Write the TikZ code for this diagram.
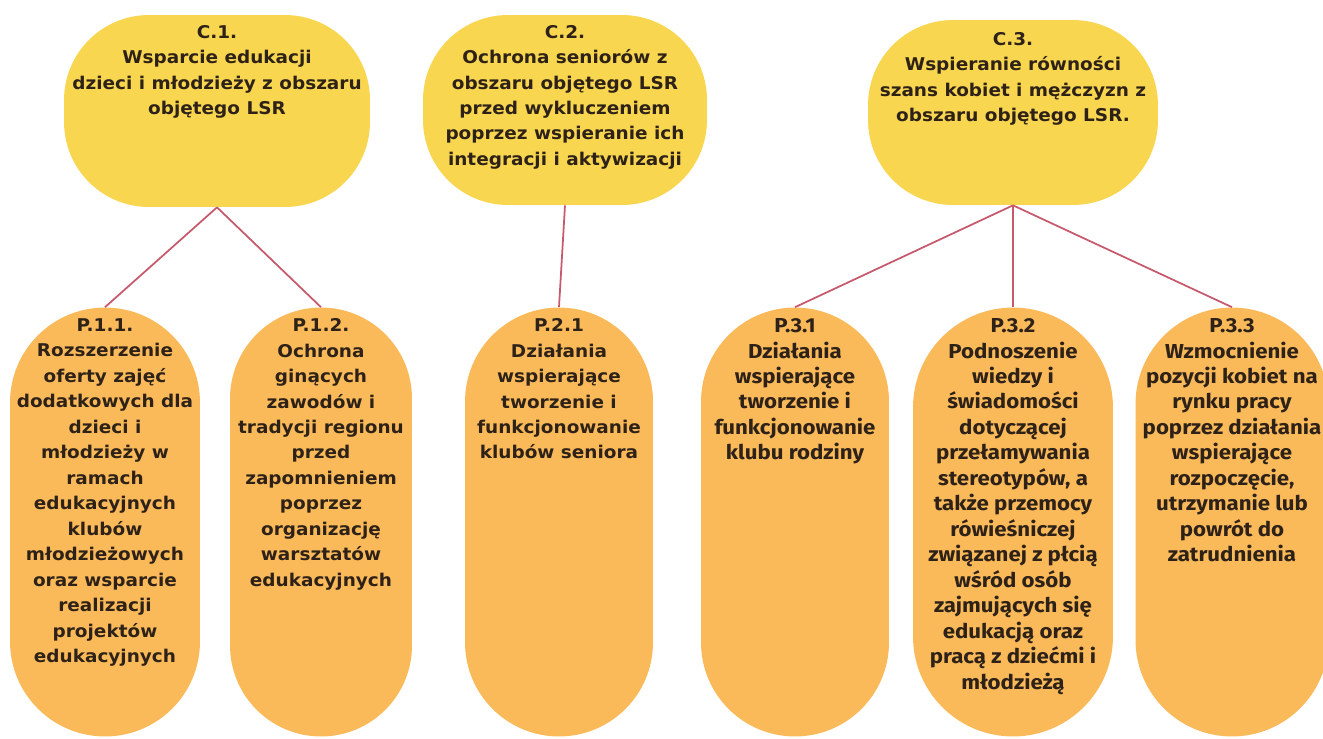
\documentclass[tikz,border=0pt]{standalone}
\usepackage{fontspec}
\newfontfamily\widefont[FakeStretch=1.05]{DejaVu Sans}
\newfontfamily\narrowfont[FakeStretch=1.1]{Fira Sans}
\usetikzlibrary{positioning}
\definecolor{goalyellow}{HTML}{F8D650}
\definecolor{taskorange}{HTML}{FABA5A}
\definecolor{linkred}{HTML}{C65A6C}
\definecolor{inkbrown}{HTML}{2E2218}

\begin{document}
\begin{tikzpicture}[x=0.02cm, y=-0.02cm,
  goal/.style={fill=goalyellow, rounded corners=1.7cm, inner sep=0pt},
  task/.style={fill=taskorange, minimum width=#1cm, rounded corners=#1*0.5cm, inner sep=0pt, minimum height=8.58cm},
  wide/.style={align=center, inner sep=0pt, text=inkbrown, font=\widefont\bfseries\fontsize{10}{14.5}\selectfont},
  narrow/.style={align=center, inner sep=0pt, text=inkbrown, font=\narrowfont\bfseries\fontsize{11.5}{14.5}\selectfont},
  link/.style={linkred, line width=1pt}]
\useasboundingbox (0,0) rectangle (1323,738);

% Goals
\node[goal, minimum width=6.12cm, minimum height=3.84cm] (c1) at (217,111) {};
\node[goal, minimum width=5.68cm, minimum height=3.8cm] (c2) at (565,110) {};
\node[goal, minimum width=5.8cm, minimum height=3.7cm] (c3) at (1013,112.5) {};

\node[wide, below=0.2cm of c1.north] (c1t) {C.1.\\Wsparcie edukacji\\dzieci i młodzieży z obszaru\\objętego LSR};
\node[wide, below=0.2cm of c2.north] (c2t) {C.2.\\Ochrona seniorów z\\obszaru objętego LSR\\przed wykluczeniem\\poprzez wspieranie ich\\integracji i aktywizacji};
\node[wide, below=0.24cm of c3.north] (c3t) {C.3.\\Wspieranie równości\\szans kobiet i mężczyzn z\\obszaru objętego LSR.};

% Tasks
\node[task=3.8] (p11) at (105,522) {};
\node[task=3.64] (p12) at (321,522) {};
\node[task=3.76] (p21) at (559,522) {};
\node[task=3.76] (p31) at (795,522) {};
\node[task=4] (p32) at (1013,522) {};
\node[task=3.86] (p33) at (1232,522) {};

\node[wide, below=0.22cm of p11.north] (p11t) {P.1.1.\\Rozszerzenie\\oferty zajęć\\dodatkowych dla\\dzieci i\\młodzieży w\\ramach\\edukacyjnych\\klubów\\młodzieżowych\\oraz wsparcie\\realizacji\\projektów\\edukacyjnych};
\node[wide, below=0.22cm of p12.north] (p12t) {P.1.2.\\Ochrona\\ginących\\zawodów i\\tradycji regionu\\przed\\zapomnieniem\\poprzez\\organizację\\warsztatów\\edukacyjnych};
\node[wide, below=0.22cm of p21.north] (p21t) {P.2.1\\Działania\\wspierające\\tworzenie i\\funkcjonowanie\\klubów seniora};
\node[narrow, below=0.22cm of p31.north] (p31t) {P.3.1\\Działania\\wspierające\\tworzenie i\\funkcjonowanie\\klubu rodziny};
\node[narrow, below=0.22cm of p32.north] (p32t) {P.3.2\\Podnoszenie\\wiedzy i\\świadomości\\dotyczącej\\przełamywania\\stereotypów, a\\także przemocy\\rówieśniczej\\związanej z płcią\\wśród osób\\zajmujących się\\edukacją oraz\\pracą z dziećmi i\\młodzieżą};
\node[narrow, below=0.22cm of p33.north] (p33t) {P.3.3\\Wzmocnienie\\pozycji kobiet na\\rynku pracy\\poprzez działania\\wspierające\\rozpoczęcie,\\utrzymanie lub\\powrót do\\zatrudnienia};

% Links
\draw[link] (c1.south) -- (p11.north);
\draw[link] (c1.south) -- (p12.north);
\draw[link] (c2.south) -- (p21.north);
\draw[link] (c3.south) -- (p31.north);
\draw[link] (c3.south) -- (p32.north);
\draw[link] (c3.south) -- (p33.north);
\end{tikzpicture}
\end{document}
